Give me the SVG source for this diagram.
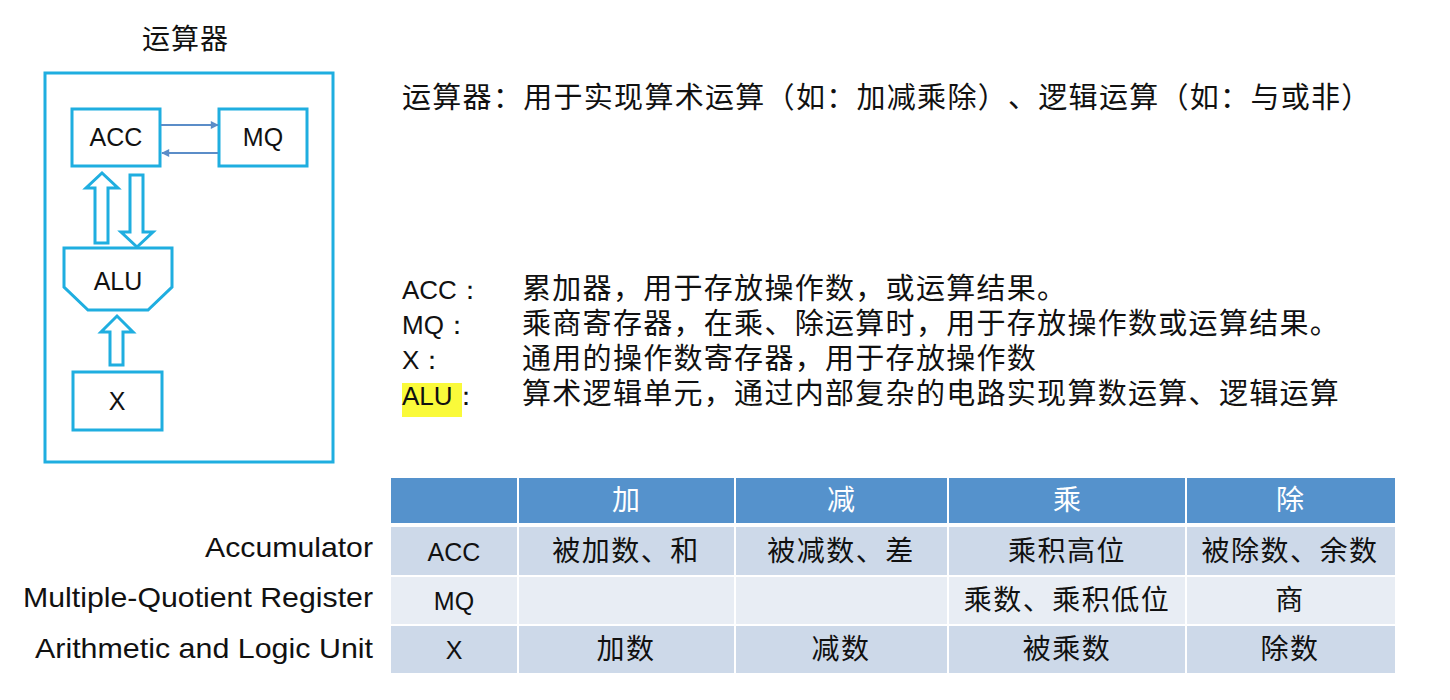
<svg xmlns="http://www.w3.org/2000/svg" width="1450" height="700" viewBox="0 0 1450 700">
<defs>
<style>
.box{fill:#fff;stroke:#1FAEE0;stroke-width:3}
.blk{fill:#fff;stroke:#1FAEE0;stroke-width:3;stroke-linejoin:miter}
.lbl{font-family:"Liberation Sans",Arial,sans-serif;font-size:25px;fill:#111;text-anchor:middle}
.cjk{font-family:"Noto Sans CJK SC","Noto Sans",sans-serif;font-size:29px;fill:#111;letter-spacing:1.3px;text-spacing-trim:space-all}
.en{font-family:"Liberation Sans",Arial,sans-serif;font-size:26px;fill:#111;text-spacing-trim:space-all}
.rowlbl{font-family:"Liberation Sans",Arial,sans-serif;font-size:28px;fill:#111;text-anchor:end}
.th{font-family:"Noto Sans CJK SC",sans-serif;font-size:28px;fill:#fff;text-anchor:middle}
.td{font-family:"Noto Sans CJK SC",sans-serif;font-size:28px;fill:#111;text-anchor:middle;letter-spacing:1.5px;text-spacing-trim:space-all}
.tdl{font-family:"Liberation Sans",Arial,sans-serif;font-size:25px;fill:#111;text-anchor:middle}
.thin{stroke:#5B8DC8;stroke-width:2;fill:none;marker-end:url(#ah)}
</style>
<marker id="ah" viewBox="0 0 10 10" refX="9" refY="5" markerWidth="9" markerHeight="8" markerUnits="userSpaceOnUse" orient="auto">
<path d="M0,0 L10,5 L0,10 z" fill="#5B8DC8"/>
</marker>
</defs>

<text class="cjk" x="142" y="49" style="font-size:28px;letter-spacing:1px">运算器</text>

<g id="outer"><rect class="box" x="45" y="73" width="288" height="389"/></g>
<g id="acc"><rect class="box" x="72" y="109" width="88" height="57"/><text class="lbl" x="116" y="146">ACC</text></g>
<g id="mq"><rect class="box" x="219" y="109" width="88" height="57"/><text class="lbl" x="263" y="146">MQ</text></g>
<g id="alu"><path class="box" d="M64,248 L172,248 L172,287 L148,310 L88,310 L64,287 Z"/><text class="lbl" x="118" y="290">ALU</text></g>
<g id="x"><rect class="box" x="73" y="372" width="89" height="58"/><text class="lbl" x="117" y="410">X</text></g>

<g id="connectors">
<line class="thin" x1="161" y1="125" x2="218" y2="125"/>
<line class="thin" x1="218" y1="153" x2="162" y2="153"/>
<path class="blk" d="M95,243 L95,188 L86,188 L102,173 L118,188 L108,188 L108,243 Z"/>
<path class="blk" d="M130,175 L143,175 L143,232 L153,232 L137,247 L121,232 L130,232 Z"/>
<path class="blk" d="M110,365 L110,332 L101,332 L117,316 L133,332 L123,332 L123,365 Z"/>
</g>

<text class="cjk" x="402" y="108">运算器：用于实现算术运算（如：加减乘除）、逻辑运算（如：与或非）</text>

<rect x="402" y="383" width="60" height="34" fill="#FAFA3A"/>
<text class="en" x="402" y="299">ACC：</text>
<text class="en" x="402" y="334">MQ：</text>
<text class="en" x="402" y="369">X：</text>
<text class="en" x="402" y="405">ALU：</text>
<text class="cjk" x="522" y="299">累加器，用于存放操作数，或运算结果。</text>
<text class="cjk" x="522" y="334">乘商寄存器，在乘、除运算时，用于存放操作数或运算结果。</text>
<text class="cjk" x="522" y="369">通用的操作数寄存器，用于存放操作数</text>
<text class="cjk" x="522" y="404">算术逻辑单元，通过内部复杂的电路实现算数运算、逻辑运算</text>

<g id="table">
<rect x="391" y="478" width="1004" height="45" fill="#5592CC"/>
<rect x="391" y="527" width="1004" height="48" fill="#CDD9E9"/>
<rect x="391" y="577" width="1004" height="47" fill="#E8EDF4"/>
<rect x="391" y="626" width="1004" height="47" fill="#CDD9E9"/>
<g stroke="#fff" stroke-width="2">
<line x1="518" y1="478" x2="518" y2="673"/>
<line x1="735" y1="478" x2="735" y2="673"/>
<line x1="948" y1="478" x2="948" y2="673"/>
<line x1="1186" y1="478" x2="1186" y2="673"/>
</g>
<text class="th" x="626" y="510">加</text>
<text class="th" x="841" y="510">减</text>
<text class="th" x="1067" y="510">乘</text>
<text class="th" x="1290" y="510">除</text>
<text class="tdl" x="454" y="561">ACC</text>
<text class="tdl" x="454" y="610">MQ</text>
<text class="tdl" x="454" y="659">X</text>
<text class="td" x="626" y="561">被加数、和</text>
<text class="td" x="841" y="561">被减数、差</text>
<text class="td" x="1067" y="561">乘积高位</text>
<text class="td" x="1290" y="561">被除数、余数</text>
<text class="td" x="1067" y="610">乘数、乘积低位</text>
<text class="td" x="1290" y="610">商</text>
<text class="td" x="626" y="659">加数</text>
<text class="td" x="841" y="659">减数</text>
<text class="td" x="1067" y="659">被乘数</text>
<text class="td" x="1290" y="659">除数</text>
</g>

<text class="rowlbl" x="373" y="557" textLength="168" lengthAdjust="spacingAndGlyphs">Accumulator</text>
<text class="rowlbl" x="373" y="607" textLength="350" lengthAdjust="spacingAndGlyphs">Multiple-Quotient Register</text>
<text class="rowlbl" x="373" y="658" textLength="338" lengthAdjust="spacingAndGlyphs">Arithmetic and Logic Unit</text>
</svg>
